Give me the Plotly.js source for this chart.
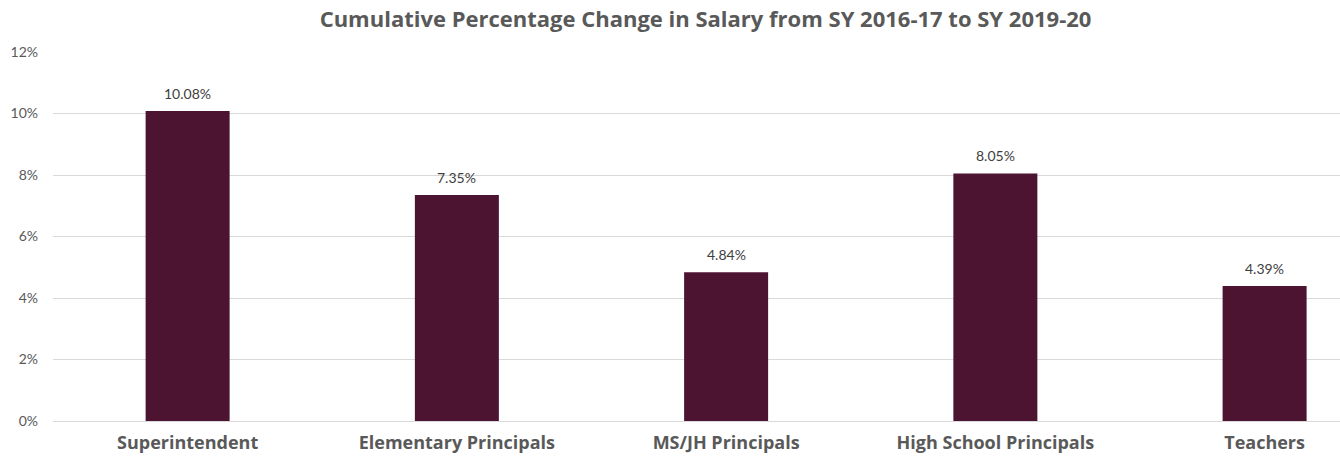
<!DOCTYPE html>
<html>
<head>
<meta charset="utf-8">
<script src="https://cdn.plot.ly/plotly-3.0.1.min.js"></script>
<style>html,body{margin:0;padding:0;background:#fff;}#chart{width:1340px;height:456px;}</style>
</head>
<body>
<div id="chart"></div>
<script>
const categories = ["Superintendent", "Elementary Principals", "MS/JH Principals", "High School Principals", "Teachers"];
const values = [10.08, 7.35, 4.84, 8.05, 4.39];
const valueLabels = ["10.08%", "7.35%", "4.84%", "8.05%", "4.39%"];
const yTickVals = [0, 2, 4, 6, 8, 10, 12];
const yTickText = ["0%", "2%", "4%", "6%", "8%", "10%", "12%"];

const FONT = "Lato, 'Open Sans', sans-serif";
const BOLDFONT = "'Open Sans', Lato, sans-serif";
const trace = {
  type: "bar",
  x: categories,
  y: values,
  marker: {color: "#4D1432"},
  hoverinfo: "skip"
};
const annotations = categories.map((c, i) => ({
  x: c, y: values[i], xref: "x", yref: "y",
  text: valueLabels[i], showarrow: false,
  yanchor: "bottom", yshift: 7,
  font: {family: FONT, size: 14, color: "#404040"}
}));
const layout = {
  width: 1340, height: 456,
  margin: {l: 53, r: 0, t: 52, b: 35},
  paper_bgcolor: "#fff", plot_bgcolor: "#fff",
  bargap: 0.688,
  showlegend: false,
  title: {
    text: "<b>Cumulative Percentage Change in Salary from SY 2016-17 to SY 2019-20</b>",
    x: 705.5/1340, xanchor: "center", xref: "container",
    y: 1 - 19/456, yanchor: "middle", yref: "container",
    font: {family: BOLDFONT, size: 22, color: "#595959"}
  },
  xaxis: {
    range: [-0.5, 4.28],
    showgrid: false, showline: false, zeroline: false,
    ticks: "", ticklabelstandoff: 9,
    tickfont: {family: BOLDFONT, size: 18, color: "#595959", weight: "bold"}
  },
  yaxis: {
    range: [0, 12],
    tickvals: yTickVals, ticktext: yTickText,
    showgrid: true, gridcolor: "#d9d9d9", gridwidth: 1,
    zeroline: true, zerolinecolor: "#d9d9d9", zerolinewidth: 1,
    showline: false, ticks: "", ticklabelstandoff: 14,
    tickfont: {family: FONT, size: 14, color: "#595959"}
  },
  annotations: annotations
};
Plotly.newPlot("chart", [trace], layout, {displayModeBar: false, staticPlot: true});
</script>
</body>
</html>
